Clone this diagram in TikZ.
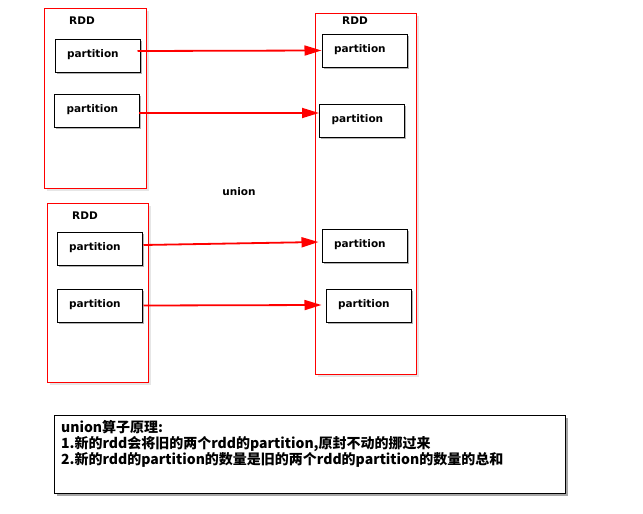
\documentclass[tikz,border=0pt]{standalone}
\usepackage{fontspec}
\setmainfont{DejaVu Sans}
\newfontfamily\cjk{Noto Sans CJK SC}
\usetikzlibrary{shadows,arrows.meta}
\begin{document}
\begin{tikzpicture}[x=1pt,y=-1pt,
    rdd/.style={draw=red, line width=1pt, fill=white, drop shadow={opacity=0.2, shadow xshift=2.5pt, shadow yshift=-2.5pt}},
    part/.style={draw, line width=1pt, fill=white, minimum width=85pt, minimum height=33pt, inner sep=0pt,
        text width=61pt, align=left, text depth=4.5pt,
        font=\bfseries\fontsize{10.5}{12}\selectfont, drop shadow={opacity=0.6, shadow xshift=1.5pt, shadow yshift=-1.5pt}},
    lbl/.style={font=\bfseries\fontsize{10.5}{12}\selectfont},
    move/.style={draw=red, line width=1.8pt, -{Triangle[length=17pt,width=10pt]}}]
    \useasboundingbox (0,0) rectangle (643,514);
    \node (r1) at (95,98) [rdd, minimum width=102pt, minimum height=180pt] {};
    \node (r2) at (97.5,292.5) [rdd, minimum width=101pt, minimum height=179pt] {};
    \node (r3) at (365.5,193.5) [rdd, minimum width=101pt, minimum height=361pt] {};
    \node (l1) at (82,21) [lbl] {RDD};
    \node (l2) at (85,216) [lbl] {RDD};
    \node (l3) at (355,21) [lbl] {RDD};
    \node (u) at (239,192) [lbl] {union};
    % old partitions
    \node (p1) at (97.5,55.5) [part] {partition};
    \node (p2) at (97,110.5) [part] {partition};
    \node (p3) at (99.5,249) [part] {partition};
    \node (p4) at (99.5,305.5) [part] {partition};
    % new partitions
    \node (q1) at (364.5,50.5) [part] {partition};
    \node (q2) at (362,120.5) [part] {partition};
    \node (q3) at (364.5,245.5) [part] {partition};
    \node (q4) at (368.5,306) [part] {partition};
    \draw[move] ([xshift=-3pt,yshift=4.5pt]p1.east) -- (q1.west);
    \draw[move] ([xshift=-1pt,yshift=-2.5pt]p2.east) -- ([yshift=7.5pt]q2.west);
    \draw[move] ([xshift=1pt,yshift=4pt]p3.east) -- ([xshift=-3pt,yshift=3.5pt]q3.west);
    \draw[move] ([xshift=1pt]p4.east) -- ([xshift=-4pt,yshift=1pt]q4.west);
    % note
    \node (n1) at (309.5,454) [draw, line width=1pt, fill=white, minimum width=511pt, minimum height=78pt,
        drop shadow={opacity=0.7, shadow xshift=3pt, shadow yshift=-3pt}] {};
    \node (t1) at (61,420) [anchor=north west, align=left, inner sep=0pt,
        font=\cjk\bfseries\fontsize{14}{16}\selectfont] {union算子原理:\\1.新的rdd会将旧的两个rdd的partition,原封不动的挪过来\\2.新的rdd的partition的数量是旧的两个rdd的partition的数量的总和};
\end{tikzpicture}
\end{document}
